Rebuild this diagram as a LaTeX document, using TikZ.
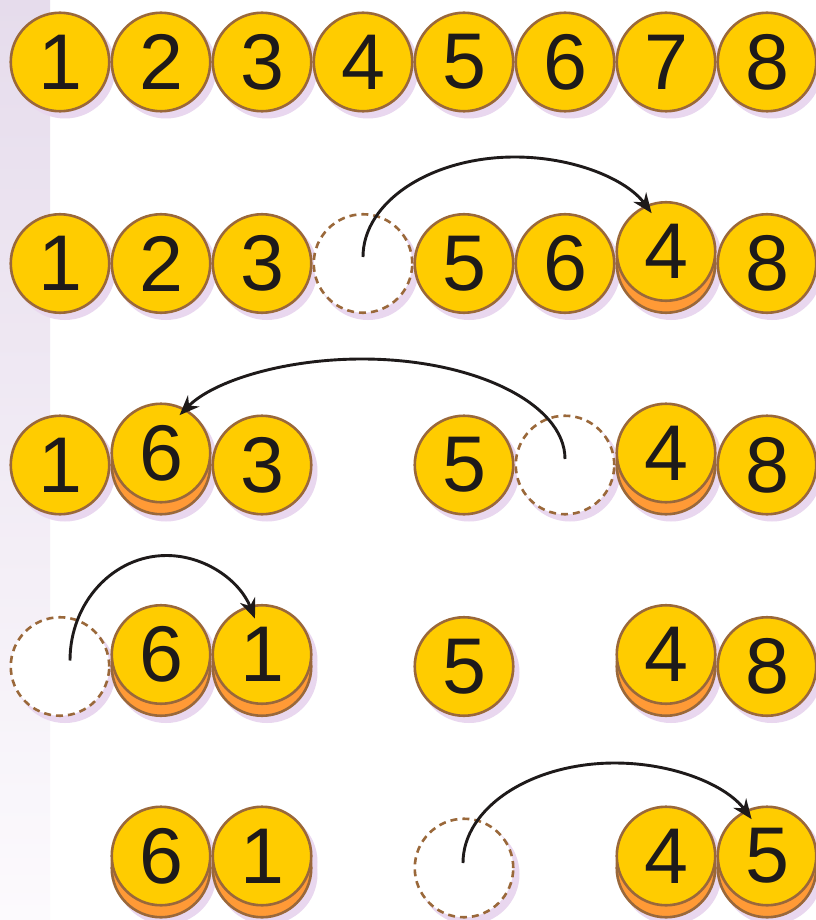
\documentclass[tikz,border=0pt]{standalone}
\usepackage{fontspec}
\setmainfont{Liberation Sans}
\usetikzlibrary{arrows.meta}
\definecolor{coinyellow}{HTML}{FFCC00}
\definecolor{coinorange}{HTML}{FF9A36}
\definecolor{rim}{HTML}{9A683A}
\definecolor{shadowc}{HTML}{E9D7EF}
\definecolor{ink}{HTML}{1E1A1A}
\definecolor{stripTop}{HTML}{E6DCEC}
\definecolor{stripBot}{HTML}{FCFAFD}
\pgfdeclarelayer{strip}
\pgfdeclarelayer{shadows}
\pgfsetlayers{strip,shadows,main}
\tikzset{
  coinbase/.style={circle, draw=rim, line width=2.6pt, minimum size=98.5pt, inner sep=0pt, outer sep=0pt},
  coin/.style={coinbase, fill=coinyellow, text=ink, font=\fontsize{79}{79}\selectfont},
  undercoin/.style={coinbase, fill=coinorange},
  gapcoin/.style={coinbase, fill=white, dash pattern=on 7pt off 5pt},
  shadowdisc/.style={circle, fill=shadowc, minimum size=101pt, inner sep=0pt, outer sep=0pt},
  move/.style={draw=ink, line width=2.9pt, -{Stealth[length=20pt,width=16pt]}},
}
\newcommand{\plaincoin}[4]{%
  \begin{pgfonlayer}{shadows}\node[shadowdisc] (#1s) at (#2+5,#3+6) {};\end{pgfonlayer}
  \node[coin] (#1) at (#2,#3) {#4};}
\newcommand{\stackcoin}[4]{%
  \begin{pgfonlayer}{shadows}
    \node[shadowdisc] (#1s) at (#2+5,#3+6) {};
    \node[shadowdisc] (#1t) at (#2+5,#3-6) {};
  \end{pgfonlayer}
  \node[undercoin] (#1b) at (#2,#3) {};
  \node[coin] (#1) at (#2,#3-12) {#4};}
\newcommand{\gapspot}[3]{%
  \begin{pgfonlayer}{shadows}\node[shadowdisc] (#1s) at (#2+5,#3+6) {};\end{pgfonlayer}
  \node[gapcoin] (#1) at (#2,#3) {};}
\begin{document}
\begin{tikzpicture}[x=1pt,y=-1pt]
\useasboundingbox (0,0) rectangle (815,920);
\begin{pgfonlayer}{strip}
  \fill[white] (0,0) rectangle (815,920);
  \shade[top color=stripTop, bottom color=stripBot] (0,0) rectangle (50,920);
\end{pgfonlayer}
% row 1
\plaincoin{a1}{60}{62}{1}
\plaincoin{a2}{161}{62}{2}
\plaincoin{a3}{262}{62}{3}
\plaincoin{a4}{363}{62}{4}
\plaincoin{a5}{464}{62}{5}
\plaincoin{a6}{565}{62}{6}
\plaincoin{a7}{666}{62}{7}
\plaincoin{a8}{767}{62}{8}
% row 2
\plaincoin{b1}{60}{263.5}{1}
\plaincoin{b2}{161}{263.5}{2}
\plaincoin{b3}{262}{263.5}{3}
\gapspot{g2}{363}{263.5}
\plaincoin{b5}{464}{263.5}{5}
\plaincoin{b6}{565}{263.5}{6}
\stackcoin{b7}{666}{263.5}{4}
\plaincoin{b8}{767}{263.5}{8}
% row 3
\plaincoin{c1}{60}{465}{1}
\stackcoin{c2}{161}{465}{6}
\plaincoin{c3}{262}{465}{3}
\plaincoin{c5}{464}{465}{5}
\gapspot{g3}{565}{465}
\stackcoin{c7}{666}{465}{4}
\plaincoin{c8}{767}{465}{8}
% row 4
\gapspot{g4}{60}{666.5}
\stackcoin{d2}{161}{666.5}{6}
\stackcoin{d3}{262}{666.5}{1}
\plaincoin{d5}{464}{666.5}{5}
\stackcoin{d7}{666}{666.5}{4}
\plaincoin{d8}{767}{666.5}{8}
% row 5
\stackcoin{e2}{161}{868}{6}
\stackcoin{e3}{262}{868}{1}
\gapspot{g5}{464}{868}
\stackcoin{e7}{666}{868}{4}
\stackcoin{e8}{767}{868}{5}
% moves
\draw[move] ([yshift=6.5pt]g2.center) arc[start angle=180, end angle=334, x radius=152, y radius=100];
\draw[move] ([yshift=6pt]g3.center) arc[start angle=0, end angle=-154, x radius=203, y radius=100];
\draw[move] ([xshift=10pt,yshift=6pt]g4.center) arc[start angle=180, end angle=336.5, x radius=96.5, y radius=105];
\draw[move] ([xshift=-1pt,yshift=5pt]g5.center) arc[start angle=180, end angle=334, x radius=152, y radius=100];
\end{tikzpicture}
\end{document}
